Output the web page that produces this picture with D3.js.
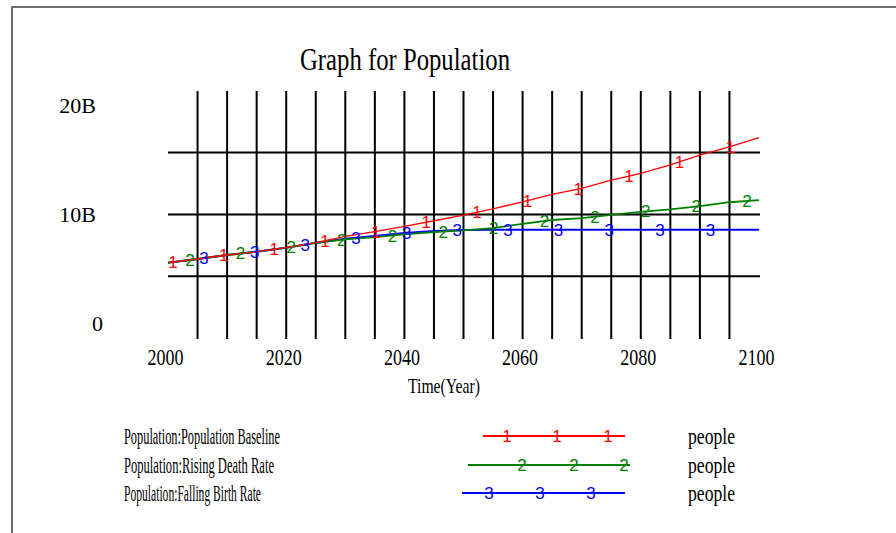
<!DOCTYPE html>
<meta charset="utf-8">
<body>
<script src="https://d3js.org/d3.v7.min.js" charset="utf-8"></script>
<style type="text/css">
  body { margin: 0; background: #fff; }
  text { font-family: "Liberation Serif", "Times New Roman", serif; fill: #000; }
  .mark { font-family: "Liberation Sans", Arial, sans-serif; font-size: 17px; }
</style>
<script>
var width = 896;
var height = 533;

// population in billions, every 5 years
var years = [2000, 2005, 2010, 2015, 2020, 2025, 2030, 2035, 2040, 2045, 2050,
             2055, 2060, 2065, 2070, 2075, 2080, 2085, 2090, 2095, 2100];
var baseline     = [5.53, 5.87, 6.24, 6.54, 6.91, 7.38, 7.95, 8.38, 8.87, 9.38, 9.90,
                    10.48, 11.12, 11.80, 12.36, 13.10, 13.72, 14.50, 15.40, 16.15, 17.00];
var risingDeath  = [5.53, 5.87, 6.24, 6.54, 6.91, 7.35, 7.68, 7.87, 8.13, 8.33, 8.50,
                    8.70, 9.10, 9.45, 9.62, 9.92, 10.20, 10.43, 10.73, 11.08, 11.28];
var fallingBirth = [5.53, 5.87, 6.24, 6.54, 6.91, 7.35, 7.72, 7.98, 8.25, 8.45, 8.54,
                    8.56, 8.56, 8.56, 8.56, 8.56, 8.56, 8.56, 8.56, 8.56, 8.56];

var seriesNames = ["Population:Population Baseline", "Population:Rising Death Rate", "Population:Falling Birth Rate"];
var seriesColors = ["#ff0000", "#008000", "#0000ff"];
var seriesMarks = ["1", "2", "3"];
var units = "people";

var xTicks = [2000, 2020, 2040, 2060, 2080, 2100];
var yTicks = [0, 10, 20];
var yTickLabels = ["0", "10B", "20B"];
var gridYears = [2005, 2010, 2015, 2020, 2025, 2030, 2035, 2040, 2045, 2050,
                 2055, 2060, 2065, 2070, 2075, 2080, 2085, 2090, 2095];
var gridValues = [4.3, 9.95, 15.65];

var svg = d3.select("body")
            .append("svg")
            .attr("width", width)
            .attr("height", height);

// frame
svg.append("path")
   .attr("d", "M12," + height + "V7H" + width)
   .attr("fill", "none")
   .attr("stroke", "#6e6e6e")
   .attr("stroke-width", 2);

var x = d3.scaleLinear().domain([2000, 2100]).range([168, 759]);
var y = d3.scaleLinear().domain([0, 20]).range([323, 105]);

// grid
svg.append("g").selectAll("line")
   .data(gridYears)
   .enter().append("line")
   .attr("x1", function(d) { return x(d); })
   .attr("x2", function(d) { return x(d); })
   .attr("y1", 91)
   .attr("y2", 339)
   .attr("stroke", "#000")
   .attr("stroke-width", 2);

svg.append("g").selectAll("line")
   .data(gridValues)
   .enter().append("line")
   .attr("x1", 168)
   .attr("x2", 760)
   .attr("y1", function(d) { return y(d); })
   .attr("y2", function(d) { return y(d); })
   .attr("stroke", "#000")
   .attr("stroke-width", 2);

// title
svg.append("text")
   .attr("x", 300)
   .attr("y", 70)
   .attr("font-size", 31)
   .attr("textLength", 210)
   .attr("lengthAdjust", "spacingAndGlyphs")
   .text("Graph for Population");

// axes
var xAxis = svg.append("g")
   .attr("transform", "translate(0,349)")
   .call(d3.axisBottom(x).tickValues(xTicks).tickSize(0).tickPadding(0).tickFormat(d3.format("d")));
xAxis.select(".domain").remove();
xAxis.selectAll("text")
   .attr("x", -3)
   .attr("font-family", "Liberation Serif")
   .attr("font-size", 23)
   .attr("fill", "#000")
   .attr("textLength", 36)
   .attr("lengthAdjust", "spacingAndGlyphs");

var yAxis = svg.append("g")
   .attr("transform", "translate(96,0)")
   .call(d3.axisLeft(y).tickValues(yTicks).tickSize(0).tickPadding(0)
            .tickFormat(function(d, i) { return yTickLabels[i]; }));
yAxis.select(".domain").remove();
yAxis.selectAll("text")
   .attr("x", function(d) { return d === 0 ? 7 : 0; })
   .attr("font-family", "Liberation Serif")
   .attr("font-size", 22)
   .attr("fill", "#000");

svg.append("text")
   .attr("x", 408)
   .attr("y", 393)
   .attr("font-size", 21)
   .attr("textLength", 72)
   .attr("lengthAdjust", "spacingAndGlyphs")
   .text("Time(Year)");

// series
var allSeries = [baseline, risingDeath, fallingBirth];
var widths = [1.3, 1.8, 2];

var line = d3.line()
   .x(function(d, i) { return x(years[i]); })
   .y(function(d) { return y(d); });

[2, 1, 0].forEach(function(s) {
  svg.append("path")
     .attr("d", line(allSeries[s]))
     .attr("fill", "none")
     .attr("stroke", seriesColors[s])
     .attr("stroke-width", widths[s]);
});

function valueAt(values, yr) {
  var i = d3.bisectRight(years, yr) - 1;
  if (i >= years.length - 1) return values[values.length - 1];
  var t = (yr - years[i]) / (years[i + 1] - years[i]);
  return values[i] + t * (values[i + 1] - values[i]);
}

// number markers along each line
var markStart = [0.85, 3.7, 6.1];
var markStep = 8.57;
[0, 1, 2].forEach(function(s) {
  var pts = [];
  for (var t = markStart[s]; t <= 100; t += markStep) pts.push(2000 + t);
  svg.append("g").selectAll("text")
     .data(pts)
     .enter().append("text")
     .attr("class", "mark")
     .attr("x", function(d) { return x(d); })
     .attr("y", function(d) { return y(valueAt(allSeries[s], d)) + 6; })
     .attr("text-anchor", "middle")
     .style("fill", seriesColors[s])
     .text(seriesMarks[s]);
});

// legend
var legendY = [436, 465, 493];
var legendTextLen = [156, 150, 137];
var legendLine = [[483, 625], [468, 630], [462, 625]];
var legendMarks = [[507, 557, 608], [522, 574, 624], [489, 540, 591]];

[0, 1, 2].forEach(function(s) {
  var g = svg.append("g");
  g.append("text")
   .attr("x", 124)
   .attr("y", legendY[s] + 8)
   .attr("font-size", 23)
   .attr("textLength", legendTextLen[s])
   .attr("lengthAdjust", "spacingAndGlyphs")
   .text(seriesNames[s]);
  g.append("line")
   .attr("x1", legendLine[s][0])
   .attr("x2", legendLine[s][1])
   .attr("y1", legendY[s])
   .attr("y2", legendY[s])
   .attr("stroke", seriesColors[s])
   .attr("stroke-width", 2);
  g.selectAll(".mark")
   .data(legendMarks[s])
   .enter().append("text")
   .attr("class", "mark")
   .attr("x", function(d) { return d; })
   .attr("y", legendY[s] + 6)
   .attr("text-anchor", "middle")
   .style("fill", seriesColors[s])
   .text(seriesMarks[s]);
  g.append("text")
   .attr("x", 688)
   .attr("y", legendY[s] + 8)
   .attr("font-size", 23)
   .attr("textLength", 47)
   .attr("lengthAdjust", "spacingAndGlyphs")
   .text(units);
});
</script>
</body>
</html>
